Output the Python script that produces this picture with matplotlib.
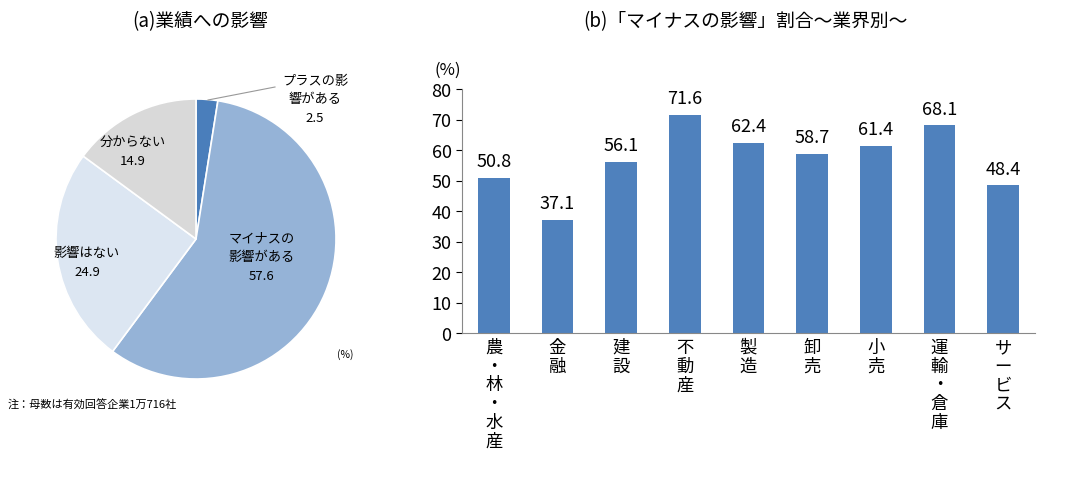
import matplotlib
matplotlib.use("Agg")
import matplotlib.pyplot as plt

plt.rcParams["font.family"] = ["Noto Sans CJK JP", "DejaVu Sans"]

pie_labels = ["プラスの影\n響がある", "マイナスの\n影響がある", "影響はない", "分からない"]
pie_values = [2.5, 57.6, 24.9, 14.9]
pie_colors = ["#4a7ebb", "#95b3d7", "#dce6f2", "#d9d9d9"]

categories = ["農・林・水産", "金融", "建設", "不動産", "製造", "卸売", "小売", "運輸・倉庫", "サービス"]
bar_values = [50.8, 37.1, 56.1, 71.6, 62.4, 58.7, 61.4, 68.1, 48.4]
yticks = [0, 10, 20, 30, 40, 50, 60, 70, 80]

W, H = 1072, 481
fig = plt.figure(figsize=(W / 100, H / 100), dpi=100)

def px(x, y):
    return x / W, 1 - y / H

# Pie
axp = fig.add_axes([56 / W, 1 - 380 / H, 280 / W, 280 / H])
axp.pie(pie_values, colors=pie_colors, startangle=90, counterclock=False,
        wedgeprops=dict(edgecolor="white", linewidth=1.2))
axp.set_xlim(-1, 1)
axp.set_ylim(-1, 1)
axp.set_aspect("equal")
fs = 9.5
axp_txt = [(315, 100, pie_labels[0] + "\n" + f"{pie_values[0]}"),
           (262, 258, pie_labels[1] + "\n" + f"{pie_values[1]}"),
           (87, 263, pie_labels[2] + "\n" + f"{pie_values[2]}"),
           (133, 152, pie_labels[3] + "\n" + f"{pie_values[3]}")]
for x, y, t in axp_txt:
    fig.text(*px(x, y), t, ha="center", va="center", fontsize=fs, linespacing=1.6)
fig.lines.append(plt.Line2D([208 / W, 275 / W], [1 - 101 / H, 1 - 88 / H],
                            transform=fig.transFigure, color="#999999", lw=0.8))
fig.text(*px(345, 355), "(%)", ha="center", va="center", fontsize=7.5)
fig.text(*px(8, 405), "注：母数は有効回答企業1万716社", ha="left", va="center", fontsize=8)
fig.text(*px(200, 22), "(a)業績への影響", ha="center", va="center", fontsize=13.5)
fig.text(*px(745, 22), "(b)「マイナスの影響」割合～業界別～", ha="center", va="center", fontsize=13.5)

# Bars
axb = fig.add_axes([462 / W, 1 - 334 / H, 573 / W, 244 / H])
x = list(range(len(categories)))
axb.bar(x, bar_values, width=0.5, color="#4f81bd")
axb.set_xlim(-0.5, len(categories) - 0.5)
axb.set_ylim(0, 80)
axb.set_yticks(yticks)
axb.set_yticklabels([str(v) for v in yticks], fontsize=13)
axb.tick_params(axis="y", length=4, direction="out")
axb.tick_params(axis="x", length=0)
axb.set_xticks(x)
axb.set_xticklabels(["\n".join(c) for c in categories], fontsize=12.5, linespacing=1.05, va="top")
for s in ["top", "right"]:
    axb.spines[s].set_visible(False)
for s in ["left", "bottom"]:
    axb.spines[s].set_color("#888888")
for xi, v in zip(x, bar_values):
    axb.text(xi, v + 2.5, f"{v}", ha="center", va="bottom", fontsize=13)
fig.text(*px(448, 70), "(%)", ha="center", va="center", fontsize=12)

fig.savefig("out.png", dpi=100)
